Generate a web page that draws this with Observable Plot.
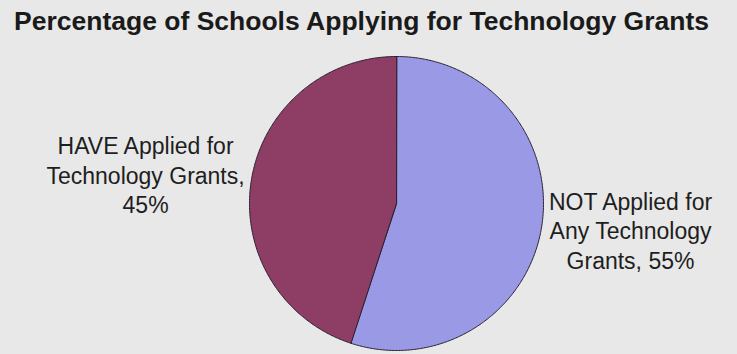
<!DOCTYPE html>
<html>
<head>
<meta charset="utf-8">
<script src="https://cdn.jsdelivr.net/npm/d3@7"></script>
<script src="https://cdn.jsdelivr.net/npm/@observablehq/plot@0.6"></script>
<style>
  html, body { margin: 0; padding: 0; background: #e8e8e8; }
  svg { display: block; }
</style>
</head>
<body>
<div id="chart"></div>
<script>
const title = "Percentage of Schools Applying for Technology Grants";
const categories = ["NOT Applied for\nAny Technology\nGrants, 55%", "HAVE Applied for\nTechnology Grants,\n45%"];
const values = [55, 45];
const colors = ["#9999e6", "#8e3d65"];

const arcs = d3.pie().sort(null).value(d => d)(values);

// polygon outline of each slice, in unit-radius coordinates
const slicePts = [];
arcs.forEach((a, i) => {
  slicePts.push({k: i, x: 0, y: 0});
  const n = Math.max(2, Math.ceil((a.endAngle - a.startAngle) / 0.01));
  for (let j = 0; j <= n; j++) {
    const t = a.startAngle + (a.endAngle - a.startAngle) * j / n;
    slicePts.push({k: i, x: Math.sin(t), y: Math.cos(t)});
  }
});

const labels = [
  {text: categories[0], x: 1.592, y: -0.18},
  {text: categories[1], x: -1.707, y: 0.2}
];

const chart = Plot.plot({
  width: 737,
  height: 354,
  margin: 0,
  style: {background: "#e8e8e8", fontFamily: "Liberation Sans, Arial, sans-serif"},
  x: {domain: [-1, 1], range: [249, 543], axis: null},
  y: {domain: [-1, 1], range: [350, 56], axis: null},
  marks: [
    Plot.line(slicePts, {x: "x", y: "y", z: "k", fill: d => colors[d.k], stroke: "#2a2030", strokeWidth: 1, curve: "linear-closed"}),
    Plot.text(labels, {x: "x", y: "y", text: "text", fontSize: 23, lineHeight: 1.28, fill: "#1e1e1e", textAnchor: "middle"}),
    Plot.text([title], {frameAnchor: "top", dy: 11, dx: -7.5, fontSize: 26.5, fontWeight: "bold", fill: "#1a1a1a"})
  ]
});
document.getElementById("chart").appendChild(chart);
</script>
</body>
</html>
